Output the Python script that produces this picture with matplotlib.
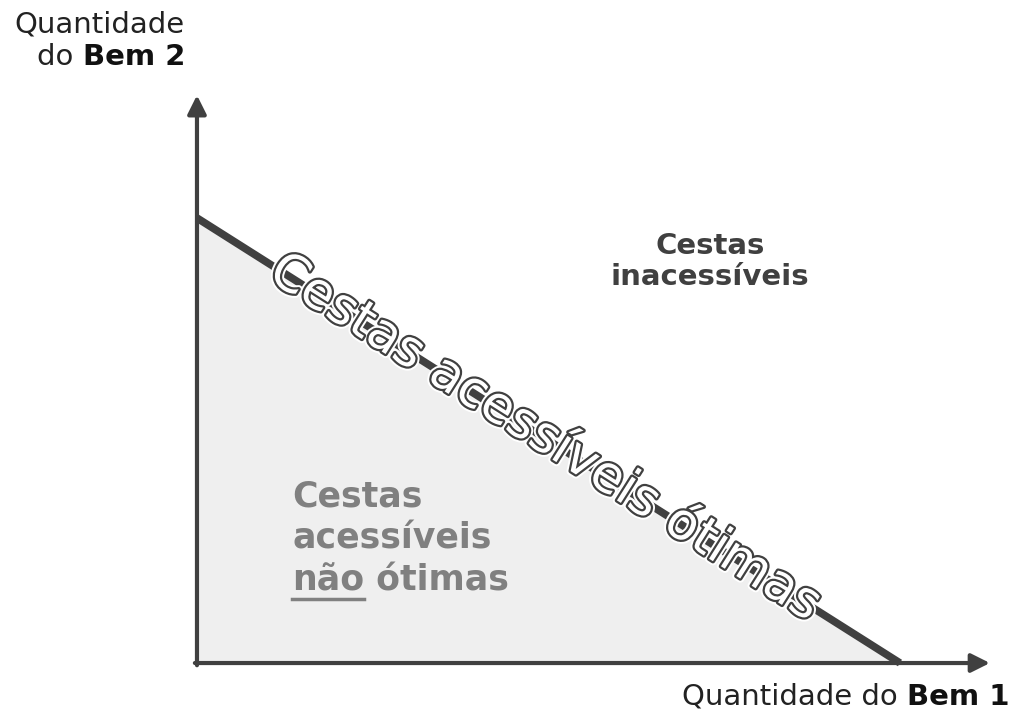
import matplotlib
matplotlib.use("Agg")
import matplotlib.pyplot as plt
import matplotlib.patheffects as pe
from matplotlib.lines import Line2D
import numpy as np

# reta orcamentaria (interceptos normalizados) e comprimento dos eixos
budget_x = [0, 10]
budget_y = [10, 0]
axis_x_max = 11.28
axis_y_max = 12.76

cinza = "#404040"
cinza_claro = "#808080"
preenchimento = "#efefef"

fig = plt.figure(figsize=(10.14, 7.17), dpi=100)
ax = fig.add_axes([0, 0, 1, 1])
ax.set_xlim(-2.802, 11.622)
ax.set_ylim(-1.213, 14.899)
ax.axis("off")

# area acessivel
ax.fill_between(budget_x, budget_y, 0, color=preenchimento, zorder=1)

# eixos com setas
ax.annotate("", xy=(axis_x_max, 0), xytext=(-0.03, 0),
            arrowprops=dict(arrowstyle="-|>", lw=3, color=cinza, mutation_scale=28,
                            shrinkA=0, shrinkB=0), zorder=3)
ax.annotate("", xy=(0, axis_y_max), xytext=(0, -0.05),
            arrowprops=dict(arrowstyle="-|>", lw=3, color=cinza, mutation_scale=28,
                            shrinkA=0, shrinkB=0), zorder=3)

# reta orcamentaria
ax.plot(budget_x, budget_y, color=cinza, lw=5.5, solid_capstyle="butt", zorder=4)

# texto ao longo da reta
p0 = ax.transData.transform((budget_x[0], budget_y[0]))
p1 = ax.transData.transform((budget_x[1], budget_y[1]))
ang = np.degrees(np.arctan2(p1[1] - p0[1], p1[0] - p0[0]))
xm = (budget_x[0] + budget_x[1]) / 2
ym = (budget_y[0] + budget_y[1]) / 2
ax.text(xm - 0.05, ym + 0.05, "Cestas acessíveis ótimas", rotation=ang, rotation_mode="anchor",
        ha="center", va="center", fontsize=37, color="white", zorder=5,
        path_effects=[pe.Stroke(linewidth=6, foreground="white"),
                      pe.Stroke(linewidth=3.2, foreground=cinza),
                      pe.Normal()])

# rotulos dos eixos
fig.text(0.1824, 0.955, "Quantidade", ha="right", va="baseline", fontsize=21, color="#222222")
b2 = fig.text(0.1824, 0.909, "Bem 2", ha="right", va="baseline", fontsize=21,
              fontweight="bold", color="#111111")
ax.annotate("do ", xy=(0, 0), xycoords=b2, ha="right", va="bottom",
            fontsize=21, color="#222222")

b1 = fig.text(0.996, 0.017, "Bem 1", ha="right", va="baseline", fontsize=21,
              fontweight="bold", color="#111111")
ax.annotate("Quantidade do ", xy=(0, 0), xycoords=b1, ha="right", va="bottom",
            fontsize=21, color="#222222")

# regioes
fig.text(0.700, 0.635, "Cestas\ninacessíveis", ha="center", va="center", fontsize=21,
         fontweight="bold", color=cinza, linespacing=1.15)

fig.text(0.288, 0.293, "Cestas", ha="left", va="baseline", fontsize=25,
         fontweight="bold", color=cinza_claro)
fig.text(0.288, 0.235, "acessíveis", ha="left", va="baseline", fontsize=25,
         fontweight="bold", color=cinza_claro)
nao = fig.text(0.288, 0.176, "não", ha="left", va="baseline", fontsize=25,
               fontweight="bold", color=cinza_claro)
ax.annotate(" ótimas", xy=(1, 0), xycoords=nao, ha="left", va="bottom",
            fontsize=25, fontweight="bold", color=cinza_claro)

fig.canvas.draw()
bb = nao.get_window_extent()
inv = fig.transFigure.inverted()
(ux0, uy), (ux1, _) = inv.transform([(bb.x0, bb.y0), (bb.x1, bb.y0)])
fig.add_artist(Line2D([ux0, ux1], [uy - 0.002, uy - 0.002], color=cinza_claro, lw=2.5))

fig.savefig("out.png", dpi=100)
